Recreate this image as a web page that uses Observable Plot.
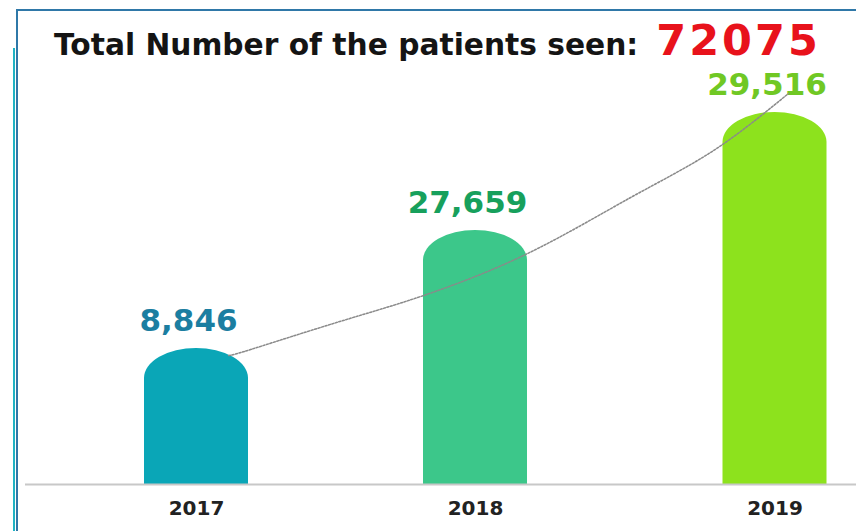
<!DOCTYPE html>
<html>
<head>
<meta charset="utf-8">
<script src="https://cdn.jsdelivr.net/npm/d3@7"></script>
<script src="https://cdn.jsdelivr.net/npm/@observablehq/plot@0.6"></script>
<style>
  body { margin: 0; background: #fff; }
  #wrap { position: relative; width: 856px; height: 531px; overflow: hidden; background: #fff; font-family: "DejaVu Sans", sans-serif; }
  .frameTop { position: absolute; left: 16px; top: 9px; width: 840px; height: 2px; background: #2f78a8; }
  .frameLeft { position: absolute; left: 16px; top: 9px; width: 2px; height: 522px; background: #2f78a8; }
  .frameLeft2 { position: absolute; left: 13px; top: 48px; width: 1.5px; height: 483px; background: #1fb3c4; }
  #title { position: absolute; left: 54px; top: 18px; white-space: nowrap; display: flex; align-items: baseline; font-weight: bold; z-index: 1; line-height: 1.05; }
  #title .t1 { font-size: 29.7px; color: #141414; }
  #title .t2 { font-size: 43px; color: #e8121b; margin-left: 18px; letter-spacing: 3px; }
  #chart { position: absolute; left: 0; top: 60px; }
</style>
</head>
<body>
<div id="wrap">
  <div class="frameTop"></div>
  <div class="frameLeft"></div>
  <div class="frameLeft2"></div>
  <div id="title"><span class="t1">Total Number of the patients seen:</span><span class="t2" id="total"></span></div>
  <div id="chart"></div>
</div>
<script>
// ---- data ----
const years = [2017, 2018, 2019];
const patients = [8846, 27659, 29516];
const totalPatients = 72075;
const tickLabels = ["2017", "2018", "2019"];
// decorative dotted trend curve
const trendYears  = [2017.115, 2017.194, 2017.502, 2017.814, 2018.174, 2018.518, 2018.795, 2019.045];
const trendValues = [8390, 8780, 12990, 17294, 23989, 28178, 28918, 29815];

// ---- styles ----
const barPalette = ["#0aa6b7", "#3cc78a", "#8de21d"];
const labelPalette = ["#1b7ea1", "#17a05c", "#70c824"];

document.getElementById("total").textContent = String(totalPatients);

const data = years.map((year, i) => ({year, value: patients[i]}));
const trend = trendYears.map((year, i) => ({year, value: trendValues[i]}));

const svgTop = 60;
const W = 856, H = 531 - svgTop, baseY = 484 - svgTop;

const chart = Plot.plot({
  width: W,
  height: H,
  marginTop: 0,
  marginRight: 0,
  marginLeft: 25,
  marginBottom: H - baseY,
  style: {fontFamily: "DejaVu Sans", background: "transparent", overflow: "visible"},
  // infographic bars are not drawn to a common scale: piecewise scales follow the picture
  x: {type: "linear", domain: years, range: [196, 475, 774.5], axis: null},
  y: {type: "linear", domain: [0, ...patients], range: [484, 348, 230, 112].map(v => v - svgTop), axis: null},
  color: {type: "identity"},
  marks: [
    Plot.rectY(data, {
      x1: "year", x2: "year", y: "value",
      fill: d => barPalette[years.indexOf(d.year)],
      insetLeft: -52, insetRight: -52, insetBottom: -40,
      rx: 52, ry: 30,
      clip: true
    }),
    Plot.ruleY([0], {stroke: "#c8c8c8", strokeWidth: 2}),
    Plot.text(data, {
      x: "year", y: "value",
      text: d => d3.format(",")(d.value),
      fill: d => labelPalette[years.indexOf(d.year)],
      fontSize: 31, fontWeight: "bold", fontFamily: "DejaVu Sans",
      lineAnchor: "bottom", dy: -18, dx: -8
    }),
    Plot.line(trend, {
      x: "year", y: "value",
      stroke: "#8a8a8a", strokeWidth: 1.5, strokeDasharray: "2,1.6",
      curve: "natural"
    }),
    Plot.axisX(years, {
      tickSize: 0, tickPadding: 16, label: null,
      tickFormat: d => tickLabels[years.indexOf(d)],
      fontSize: 20, fontWeight: "bold", fill: "#222", fontFamily: "DejaVu Sans"
    })
  ]
});
document.getElementById("chart").appendChild(chart);
</script>
</body>
</html>
